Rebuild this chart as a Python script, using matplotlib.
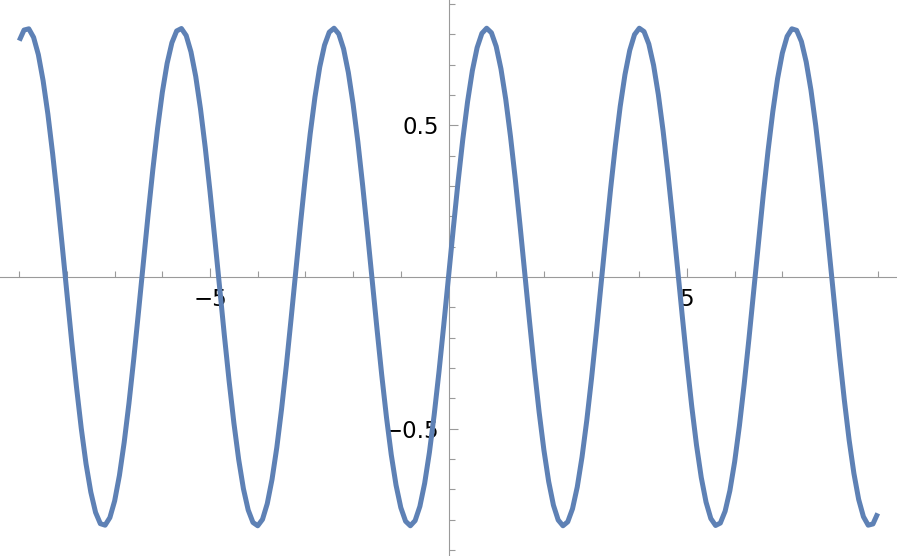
import matplotlib
matplotlib.use('Agg')
import matplotlib.pyplot as plt
import numpy as np

# sample positions along x (step 0.1 from -9 to 9)
x_start = -9.0
x_step = 0.1

# curve values, one per sample
y_vals = [
    0.779, 0.814, 0.818, 0.790, 0.733, 0.647, 0.537, 0.406, 0.260, 0.104,
    -0.056, -0.214, -0.363, -0.499, -0.616, -0.709, -0.776, -0.813, -0.818, -0.793,
    -0.738, -0.654, -0.545, -0.416, -0.271, -0.115, 0.045, 0.203, 0.353, 0.490,
    0.609, 0.704, 0.772, 0.811, 0.819, 0.796, 0.742, 0.661, 0.554, 0.426,
    0.281, 0.126, -0.033, -0.192, -0.343, -0.481, -0.601, -0.698, -0.768, -0.809,
    -0.820, -0.799, -0.747, -0.667, -0.562, -0.435, -0.292, -0.137, 0.022, 0.181,
    0.333, 0.472, 0.593, 0.692, 0.764, 0.807, 0.820, 0.801, 0.752, 0.674,
    0.570, 0.445, 0.302, 0.148, -0.011, -0.170, -0.323, -0.463, -0.586, -0.686,
    -0.760, -0.805, -0.820, -0.803, -0.756, -0.680, -0.578, -0.454, -0.313, -0.159,
    0.000,
    0.159, 0.313, 0.454, 0.578, 0.680, 0.756, 0.803, 0.820, 0.805, 0.760,
    0.686, 0.586, 0.463, 0.323, 0.170, 0.011, -0.148, -0.302, -0.445, -0.570,
    -0.674, -0.752, -0.801, -0.820, -0.807, -0.764, -0.692, -0.593, -0.472, -0.333,
    -0.181, -0.022, 0.137, 0.292, 0.435, 0.562, 0.667, 0.747, 0.799, 0.820,
    0.809, 0.768, 0.698, 0.601, 0.481, 0.343, 0.192, 0.033, -0.126, -0.281,
    -0.426, -0.554, -0.661, -0.742, -0.796, -0.819, -0.811, -0.772, -0.704, -0.609,
    -0.490, -0.353, -0.203, -0.045, 0.115, 0.271, 0.416, 0.545, 0.654, 0.738,
    0.793, 0.818, 0.813, 0.776, 0.709, 0.616, 0.499, 0.363, 0.214, 0.056,
    -0.104, -0.260, -0.406, -0.537, -0.647, -0.733, -0.790, -0.818, -0.814, -0.779,
]

x_major = [-5, 5]
x_minor = [-9, -8, -7, -6, -4, -3, -2, -1, 1, 2, 3, 4, 6, 7, 8, 9]
y_major = [-0.5, 0.5]
y_minor = [-0.9, -0.8, -0.7, -0.6, -0.4, -0.3, -0.2, -0.1,
           0.1, 0.2, 0.3, 0.4, 0.6, 0.7, 0.8, 0.9]

LINE_COLOR = '#5e81b5'
AXIS_COLOR = '#9a9a9a'

xs = x_start + x_step * np.arange(len(y_vals))

fig = plt.figure(figsize=(8.97, 5.56), dpi=100)
ax = fig.add_axes([0, 0, 1, 1])
ax.patch.set_alpha(0)

ax.plot(xs, y_vals, color=LINE_COLOR, lw=3.6, solid_capstyle='butt',
        solid_joinstyle='round', zorder=3)

ax.set_xlim(-9.404, 9.404)
ax.set_ylim(-0.9196, 0.913)

# axes through the origin
for side in ['top', 'right']:
    ax.spines[side].set_visible(False)
for side in ['left', 'bottom']:
    ax.spines[side].set_position(('data', 0))
    ax.spines[side].set_color(AXIS_COLOR)
    ax.spines[side].set_linewidth(0.8)
    ax.spines[side].set_zorder(1)

ax.set_xticks(x_major)
ax.set_xticks(x_minor, minor=True)
ax.set_yticks(y_major)
ax.set_yticks(y_minor, minor=True)
ax.set_xticklabels(['\u22125', '5'])
ax.set_yticklabels(['\u22120.5', '0.5'])

ax.tick_params(which='major', direction='in', length=6.8, width=0.8,
               color=AXIS_COLOR, labelsize=16.5, labelcolor='black')
ax.tick_params(which='minor', direction='in', length=4.0, width=0.8,
               color=AXIS_COLOR)
ax.tick_params(axis='x', which='major', pad=8)
ax.tick_params(axis='y', which='major', pad=7)

fig.savefig('out.png', dpi=100)
